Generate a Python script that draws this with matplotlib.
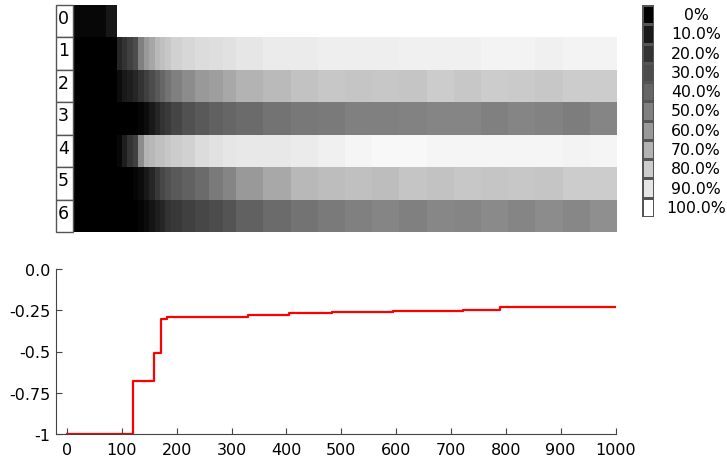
import numpy as np
import matplotlib
matplotlib.use("Agg")
import matplotlib.pyplot as plt
from matplotlib.patches import Rectangle

# column edges of the heatmap (iteration)
edges = [0, 60, 80, 90, 100, 110, 120, 130, 140, 150, 160, 170, 180, 200, 225, 250,
         275, 300, 350, 400, 450, 500, 550, 600, 650, 700, 750, 800, 850, 900, 950, 1000]

row_labels = ['0', '1', '2', '3', '4', '5', '6']

nan = np.nan
row0 = [0.03, 0.09] + [nan] * 29
row1 = [0, 0, 0.15, 0.2, 0.25, 0.3, 0.5, 0.6, 0.65, 0.72, 0.75, 0.78, 0.82, 0.84, 0.86,
        0.87, 0.88, 0.9, 0.92, 0.92, 0.93, 0.93, 0.93, 0.94, 0.94, 0.94, 0.95, 0.95,
        0.94, 0.95, 0.95]
row2 = [0, 0, 0.05, 0.1, 0.12, 0.15, 0.2, 0.25, 0.3, 0.35, 0.4, 0.45, 0.5, 0.55, 0.6,
        0.62, 0.66, 0.7, 0.73, 0.76, 0.78, 0.77, 0.78, 0.77, 0.8, 0.78, 0.8, 0.79,
        0.78, 0.8, 0.8]
row3 = [0, 0, 0, 0, 0, 0, 0.02, 0.05, 0.1, 0.15, 0.2, 0.23, 0.27, 0.32, 0.35,
        0.38, 0.4, 0.42, 0.45, 0.47, 0.48, 0.5, 0.5, 0.51, 0.52, 0.52, 0.5, 0.52,
        0.51, 0.49, 0.52]
row4 = [0, 0, 0.03, 0.12, 0.2, 0.25, 0.55, 0.7, 0.72, 0.75, 0.75, 0.78, 0.8, 0.82, 0.86,
        0.88, 0.9, 0.91, 0.91, 0.92, 0.94, 0.96, 0.97, 0.97, 0.96, 0.96, 0.96, 0.96,
        0.96, 0.95, 0.96]
row5 = [0, 0, 0, 0, 0, 0.02, 0.05, 0.1, 0.15, 0.22, 0.28, 0.32, 0.35, 0.38, 0.42,
        0.48, 0.52, 0.6, 0.66, 0.72, 0.74, 0.75, 0.74, 0.77, 0.76, 0.78, 0.77, 0.78,
        0.77, 0.8, 0.8]
row6 = [0, 0, 0, 0, 0, 0, 0.02, 0.05, 0.08, 0.12, 0.15, 0.2, 0.22, 0.25, 0.28,
        0.3, 0.33, 0.38, 0.42, 0.45, 0.48, 0.5, 0.52, 0.5, 0.53, 0.52, 0.54, 0.52,
        0.55, 0.53, 0.56]

levels = [0, 0.1, 0.2, 0.3, 0.4, 0.5, 0.6, 0.7, 0.8, 0.9, 1.0]
level_labels = ['0%', '10.0%', '20.0%', '30.0%', '40.0%', '50.0%', '60.0%',
                '70.0%', '80.0%', '90.0%', '100.0%']

# best value per iteration
step_x = [0, 121, 159, 171, 172, 176, 183, 330, 405, 483, 594, 722, 790, 1000]
step_y = [-1, -0.677, -0.507, -0.37, -0.305, -0.30, -0.293, -0.277, -0.267, -0.259,
          -0.255, -0.25, -0.228, -0.228]

W, H = 727, 460
fig = plt.figure(figsize=(W / 100, H / 100), dpi=100)

# heatmap
ax = fig.add_axes([73 / W, 1 - 233 / H, 544 / W, 227 / H])
grid = np.ma.masked_invalid(np.array([row0, row1, row2, row3, row4, row5, row6]))
ax.pcolormesh(edges, np.arange(8), grid, cmap='gray', vmin=0, vmax=1)
ax.set_xlim(0, 1000)
ax.set_ylim(7, 0)
ax.axis('off')

# row label boxes
lab = fig.add_axes([56 / W, 1 - 233 / H, 17 / W, 227 / H])
lab.set_xlim(0, 1)
lab.set_ylim(7, 0)
lab.axis('off')
for i, t in enumerate(row_labels):
    lab.add_patch(Rectangle((0, i), 1, 1, facecolor='white', edgecolor='#555555',
                            linewidth=1, clip_on=False))
    lab.text(0.45, i + 0.4, t, ha='center', va='center', fontsize=12.5)

# legend of grey levels
cax = fig.add_axes([642 / W, 1 - 218 / H, 12 / W, 212 / H])
cax.pcolormesh(np.array(levels).reshape(-1, 1), cmap='gray', vmin=0, vmax=1,
               edgecolors='#555555', linewidth=1)
cax.set_xlim(0, 1)
cax.set_ylim(len(levels), 0)
cax.axis('off')
for i, t in enumerate(level_labels):
    cax.text(4.5, i + 0.5, t, ha='center', va='center', fontsize=11.3)

# line chart
ax2 = fig.add_axes([56 / W, 1 - 435 / H, 559.5 / W, 165 / H])
ax2.plot(step_x, step_y, color='red', linewidth=1.6, drawstyle='steps-post')
ax2.set_xlim(-20, 1000)
ax2.set_ylim(-1, 0)
ax2.set_xticks(range(0, 1001, 100))
ax2.set_yticks([0, -0.25, -0.5, -0.75, -1])
ax2.set_yticklabels(['0.0', '-0.25', '-0.5', '-0.75', '-1'])
for s in ['top', 'right']:
    ax2.spines[s].set_visible(False)
for s in ['left', 'bottom']:
    ax2.spines[s].set_color('#444444')
ax2.tick_params(direction='in', length=4, labelsize=11.5, color='#444444')
ax2.tick_params(axis='y', pad=4)
ax2.tick_params(axis='x', pad=6)

fig.savefig('out.png', dpi=100)
